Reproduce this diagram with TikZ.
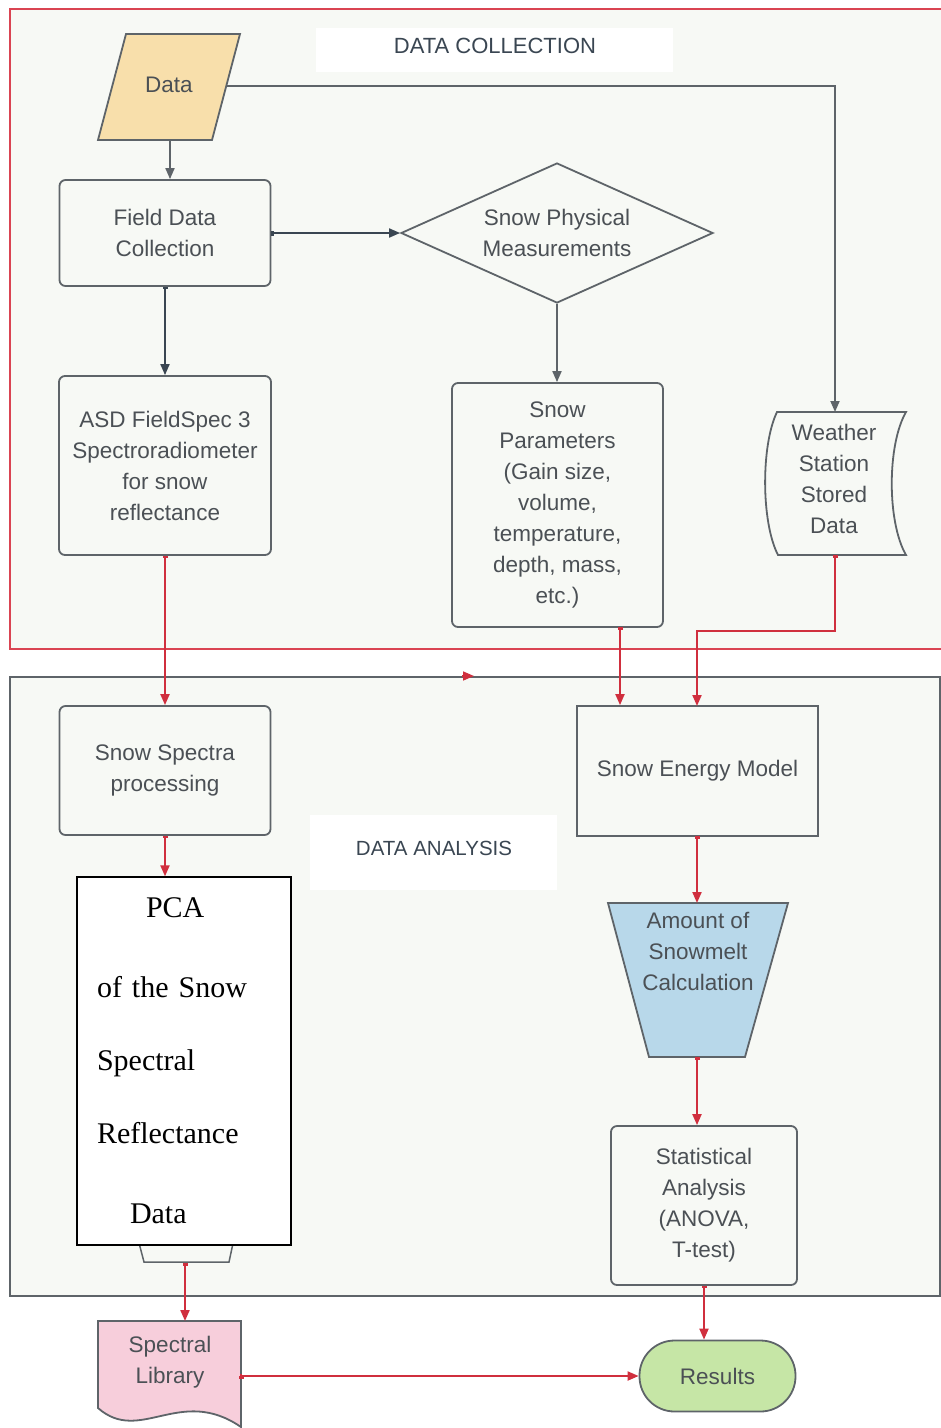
\documentclass[tikz,border=0pt]{standalone}
\usepackage{fontspec}
\setmainfont{Liberation Sans}
\newfontfamily\serifpca{Liberation Serif}
\usetikzlibrary{arrows.meta,shapes.geometric}

\definecolor{paper}{HTML}{F7F9F5}
\definecolor{linegray}{HTML}{5E6469}
\definecolor{navy}{HTML}{3A4652}
\definecolor{snowred}{HTML}{D02F3E}
\definecolor{framered}{HTML}{DA4452}
\definecolor{txtgray}{HTML}{4B5055}
\definecolor{datafill}{HTML}{F8DFAB}
\definecolor{meltfill}{HTML}{B8D8EA}
\definecolor{resfill}{HTML}{C6E6A6}
\definecolor{libfill}{HTML}{F7CEDB}

\newcommand{\lbl}{\fontsize{22.5}{31}\selectfont}

\tikzset{
  box/.style={draw=linegray, line width=1.8pt, fill=paper, rounded corners=6pt, align=center, font=\lbl, text=txtgray, inner sep=3pt},
  plainbox/.style={box, rounded corners=0pt},
  tag/.style={font=\lbl, text=txtgray, align=center, inner sep=0pt},
  shapeline/.style={draw=linegray, line width=1.8pt},
  grayarrow/.style={draw=linegray, line width=1.8pt, -{Triangle[length=11pt,width=9pt]}},
  navyarrow/.style={draw=navy, line width=1.8pt, {Square[length=2.5pt,width=5pt]}-{Triangle[length=11pt,width=9pt]}},
  redarrow/.style={draw=snowred, line width=2pt, {Square[length=2.5pt,width=5pt]}-{Triangle[length=11pt,width=9pt]}},
}

\begin{document}
\begin{tikzpicture}[x=1pt,y=-1pt]
	\useasboundingbox (0,0) rectangle (941,1428);
	
	\draw[framered, line width=2pt, fill=paper] (10,9) rectangle (960,649);
	\draw[linegray, line width=2pt, fill=paper] (10,677) rectangle (940,1296);
	\fill[white] (316,28) rectangle (673,72);
	\fill[white] (310,815) rectangle (557,890);
	\node[tag, font=\fontsize{22}{26}\selectfont, text=navy] (collect) at (495,46) {DATA COLLECTION};
	\node[tag, font=\fontsize{20.5}{26}\selectfont, text=navy] (analyse) at (434,848) {DATA ANALYSIS};
	
	\draw[shapeline, fill=datafill] (126,34) -- (240,34) -- (212,140) -- (98,140) -- cycle;
	\node[tag] (data) at (169,85) {Data};
	\coordinate (data-s) at (170,140);
	\coordinate (data-e) at (226,86);
	
	\node[box, minimum width=211pt, minimum height=106pt] (field) at (165,233) {Field Data\\Collection};
	\node[box, shape=diamond, aspect=2.23, rounded corners=0pt, inner sep=0pt, minimum width=312pt, minimum height=140pt] (phys) at (557,233) {Snow Physical\\Measurements};
	\node[box, minimum width=212pt, minimum height=179pt] (asd) at (165,465.5) {ASD FieldSpec 3\\Spectroradiometer\\for snow\\reflectance};
	\node[box, minimum width=211pt, minimum height=244pt] (params) at (557.5,505) {Snow\\Parameters\\(Gain size,\\volume,\\temperature,\\depth, mass,\\etc.)};
	
	\draw[shapeline, fill=paper] (777,412) -- (906,412) .. controls (887,445) and (887,522) .. (906,555) -- (778,555) .. controls (761,522) and (761,445) .. (777,412) -- cycle;
	\node[tag] (ws) at (834,479) {Weather\\Station\\Stored\\Data};
	\coordinate (ws-n) at (835,412);
	\coordinate (ws-s) at (835,555);
	
	\node[box, minimum width=211pt, minimum height=129pt] (spectra) at (165,770.5) {Snow Spectra\\processing};
	\node[plainbox, minimum width=241pt, minimum height=130pt] (energy) at (697.5,771) {Snow Energy Model};
	
	\draw[shapeline, fill=meltfill] (608,903) -- (788,903) -- (745,1057) -- (649,1057) -- cycle;
	\node[tag] (melt) at (698,951) {Amount of\\Snowmelt\\Calculation};
	\coordinate (melt-n) at (697,903);
	\coordinate (melt-s) at (697,1057);
	
	\node[box, minimum width=186pt, minimum height=159pt] (stat) at (704,1205.5) {Statistical\\Analysis\\(ANOVA,\\T-test)};
	
	\draw[linegray, line width=1.5pt, fill=paper] (133,1220) -- (238,1220) -- (229,1262) -- (144,1262) -- cycle;
	\coordinate (pca-s) at (185,1263);
	\node[draw=black, line width=1.3pt, fill=white, minimum width=214pt, minimum height=368pt, text width=174pt, inner xsep=20pt, align=left, font=\serifpca\fontsize{30}{73}\selectfont] (pca) at (184,1061) {\hspace*{49pt}PCA\\[7pt]of the Snow\\Spectral\\Reflectance\\[7pt]\hspace*{33pt}Data};
	
	\draw[shapeline, fill=libfill] (98,1408) -- (98,1321) -- (241,1321) -- (241,1427) .. controls (180,1385) and (140,1445) .. (98,1408) -- cycle;
	\node[tag] (lib) at (170,1362) {Spectral\\Library};
	\coordinate (lib-n) at (185,1321);
	\coordinate (lib-e) at (241,1376);
	
	\node[box, fill=resfill, rounded corners=35pt, minimum width=156pt, minimum height=71pt] (res) at (717.5,1376) {Results};
	
	\draw[grayarrow] (data-s) -- (field.north -| data-s);
	\draw[grayarrow] (data-e) -| (ws-n);
	\draw[navyarrow] (field.east) -- (phys.west);
	\draw[navyarrow] (field.south) -- (asd.north);
	\draw[grayarrow] (phys.south) -- (params.north -| phys.south);
	
	\coordinate (p-out) at (620,627);
	\coordinate (e-in) at (697,706);
	\coordinate (e-out) at (697,836);
	\coordinate (stray) at (462,676);
	\draw[redarrow] (asd.south) -- (spectra.north);
	\draw[redarrow] (p-out) -- (p-out |- energy.north);
	\draw[redarrow] (ws-s) -- ++(0,76) -| (e-in);
	\draw[draw=snowred, line width=1.6pt, -{Triangle[length=11pt,width=9pt]}] (stray) -- ++(12,0);
	\draw[redarrow] (spectra.south) -- (pca.north -| spectra.south);
	\draw[redarrow] (e-out) -- (melt-n);
	\draw[redarrow] (melt-s) -- (melt-s |- stat.north);
	\draw[redarrow] (stat.south) -- (stat.south |- res.north);
	\draw[redarrow] (pca-s) -- (lib-n);
	\draw[redarrow] (lib-e) -- (res.west -| lib-e) -- (res.west);
\end{tikzpicture}
\end{document}
